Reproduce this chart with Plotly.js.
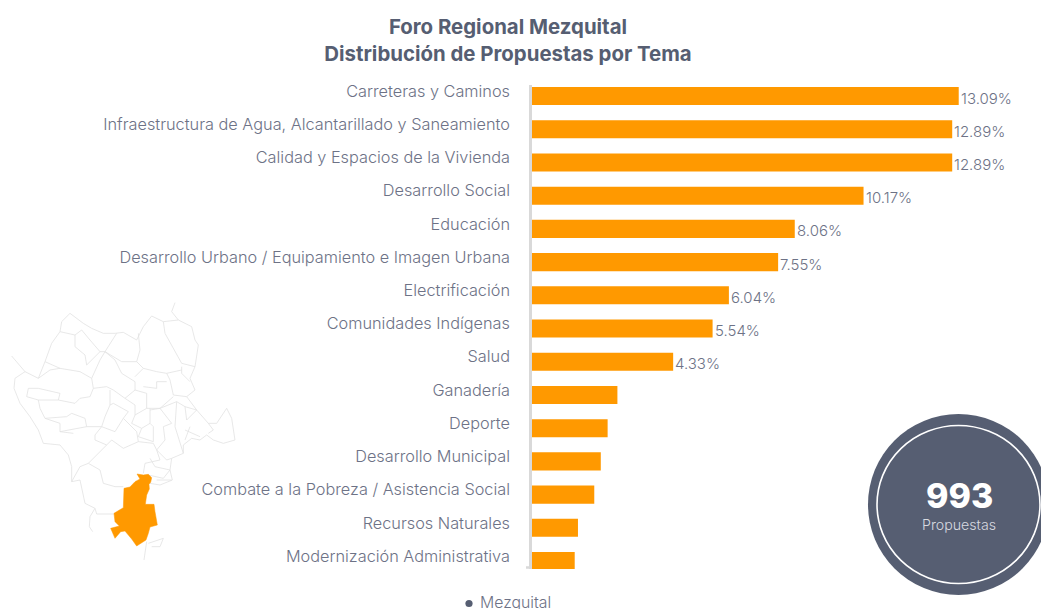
<!DOCTYPE html>
<html><head><meta charset="utf-8">
<script src="https://cdn.plot.ly/plotly-3.0.1.min.js"></script>
<style>html,body{margin:0;padding:0;background:#fff;overflow:hidden}</style>
</head><body><div id="chart" style="width:1041px;height:609px"></div>
<script>
const categories = ["Carreteras y Caminos","Infraestructura de Agua, Alcantarillado y Saneamiento","Calidad y Espacios de la Vivienda","Desarrollo Social","Educación","Desarrollo Urbano / Equipamiento e Imagen Urbana","Electrificación","Comunidades Indígenas","Salud","Ganadería","Deporte","Desarrollo Municipal","Combate a la Pobreza / Asistencia Social","Recursos Naturales","Modernización Administrativa"];
const values = [13.09,12.89,12.89,10.17,8.06,7.55,6.04,5.54,4.33,2.62,2.32,2.11,1.91,1.41,1.31];
const valueLabels = ["13.09%","12.89%","12.89%","10.17%","8.06%","7.55%","6.04%","5.54%","4.33%","","","","","",""];
const seriesName = "Mezquital";
const totalValue = "993";
const totalLabel = "Propuestas";
const titleLines = ["Foro Regional Mezquital","Distribución de Propuestas por Tema"];

// Decorative locator map, traced in a 3x crop whose origin is (0,290)
const regionOutline = [[411,552],[430,555],[445,553],[455,563],[452,577],[447,583],[448,597],[440,615],[436,643],[462,643],[465,665],[472,705],[450,711],[445,730],[438,750],[410,768],[395,747],[375,723],[362,725],[345,745],[332,715],[358,708],[345,695],[342,670],[370,653],[372,595],[390,591],[405,575],[420,567]];
const mapLines = [
[[525,38],[515,65],[535,90],[575,110],[585,150],[595,165],[585,230],[570,265],[585,300],[560,320],[590,360],[625,400],[650,400],[680,355],[695,385],[705,450],[670,460],[640,450],[620,435],[600,450],[575,445],[550,465],[550,490],[515,505],[510,540],[517,570],[480,585],[450,580]],
[[35,198],[75,245],[115,265],[135,215],[155,160],[180,125],[185,95],[210,70],[250,100],[275,115],[310,130],[345,130],[370,127],[410,150],[430,110],[455,78],[490,95],[535,90]],
[[75,245],[45,265],[42,295],[60,340],[90,380],[115,420],[130,460],[180,465],[205,495],[215,530],[215,575],[240,570],[255,640],[285,655],[290,672],[343,672]],
[[285,655],[270,680],[268,710],[278,725]],
[[440,755],[432,810]],
[[445,760],[490,745],[480,770],[455,770]],
[[180,125],[225,135],[245,120],[270,150],[300,185],[315,185],[350,130]],
[[225,135],[225,170],[255,195],[260,225],[300,185]],
[[135,215],[180,235],[240,245],[275,265],[300,210],[315,185],[345,210],[365,250],[405,275],[405,300],[375,325],[340,300],[320,290],[280,295],[275,265]],
[[115,265],[150,240],[180,235]],
[[315,185],[365,215],[410,215],[430,235],[470,245]],
[[410,215],[420,180],[415,130]],
[[490,95],[495,130],[545,220],[585,230]],
[[545,230],[545,250],[570,275]],
[[500,250],[545,240]],
[[500,250],[510,270],[520,315],[560,320]],
[[470,245],[500,250]],
[[405,260],[430,235]],
[[430,290],[470,295],[470,275],[500,275]],
[[405,300],[440,310],[440,355],[480,355],[520,320]],
[[375,325],[405,345],[405,375],[440,355]],
[[115,330],[80,320],[85,295],[115,295],[180,310],[175,330],[115,330]],
[[115,330],[120,355],[135,385],[180,400]],
[[175,330],[225,340],[240,325],[270,320],[280,295]],
[[135,385],[200,380],[215,370],[255,385],[260,410],[180,425]],
[[180,400],[180,425],[220,430]],
[[260,410],[305,410]],
[[330,300],[330,345],[315,380],[305,410],[345,425],[370,385],[385,365],[340,340],[330,345]],
[[305,410],[285,435],[285,450],[320,465],[335,450],[370,475],[415,455],[460,460],[470,480]],
[[370,385],[410,425],[415,455]],
[[405,375],[395,400],[425,415],[450,400],[450,355]],
[[450,360],[480,355],[515,400],[490,410],[495,450],[470,480],[500,510],[515,505]],
[[425,415],[415,440],[460,455],[460,410],[450,400]],
[[480,355],[530,335],[555,350],[590,360]],
[[530,335],[525,410],[550,490]],
[[555,350],[560,390],[590,360]],
[[555,420],[600,440]],
[[570,410],[555,450]],
[[625,400],[640,420],[625,430]],
[[320,465],[265,520],[300,540],[310,580],[345,590],[370,590]],
[[265,520],[240,530],[215,575]],
[[470,480],[480,510],[435,520],[430,550]],
[[450,505],[465,530],[510,540]],
[[445,555],[490,565],[510,540]],
[[470,570],[515,570]]
];

const W = 1041, H = 609;
const m = {l:532, r:0, t:85, b:40};
const pw = W-m.l-m.r, ph = H-m.t-m.b;
const px = x => (x-m.l)/pw;
const py = y => 1-(y-m.t)/ph;
const mapPath = (pts, close) => pts.map((p,i)=>(i?'L':'M')+px(p[0]/3).toFixed(5)+','+py(290+p[1]/3).toFixed(5)).join(' ')+(close?' Z':'');
const paperShape = o => Object.assign({xref:'paper',yref:'paper',layer:'above'},o);
const ellipse = (cx,cy,rx,ry,o) => paperShape(Object.assign({type:'circle',x0:px(cx-rx),x1:px(cx+rx),y0:py(cy+ry),y1:py(cy-ry)},o));

const textColor = '#6d7286', dark = '#565e72', fontFamily = 'Inter, "Noto Sans", sans-serif';
const shapes = [];
mapLines.forEach(l=>shapes.push(paperShape({type:'path',path:mapPath(l,false),line:{color:'#e2e2e2',width:0.8},fillcolor:'rgba(0,0,0,0)'})));
shapes.push(paperShape({type:'path',path:mapPath(regionOutline,true),line:{color:'#ff9900',width:0.5},fillcolor:'#ff9900'}));
shapes.push(ellipse(958.5,504.5,90.5,90.5,{line:{width:0},fillcolor:dark}));
shapes.push(ellipse(958.5,504.5,81.5,79,{line:{width:1.6,color:'#ffffff'},fillcolor:'rgba(0,0,0,0)'}));
shapes.push(paperShape({type:'line',x0:px(526),x1:px(531),y0:py(567.5),y1:py(567.5),line:{color:'#d9d9d9',width:2.5}}));
shapes.push(ellipse(469,603.5,3.6,3.6,{line:{width:0},fillcolor:dark}));

const annotations = valueLabels.map((t,i)=>({x:values[i],y:categories[i],text:t,xref:'x',yref:'y',xanchor:'left',yanchor:'middle',xshift:0,yshift:-2,showarrow:false,font:{family:fontFamily,size:15,color:textColor,weight:300}})).filter(a=>a.text);
const paperText = (x,y,text,font,anchor)=>({xref:'paper',yref:'paper',x:px(x),y:py(y),text,showarrow:false,xanchor:anchor||'center',yanchor:'middle',font});
annotations.push(paperText(959.5,495,totalValue,{family:fontFamily,size:34,color:'#ffffff',weight:800}));
annotations.push(paperText(958.5,524,totalLabel,{family:fontFamily,size:14.2,color:'#d8dae0',weight:300}));
annotations.push(paperText(478,602.5,seriesName,{family:fontFamily,size:15.8,color:textColor,weight:300},'left'));

Plotly.newPlot('chart',[{type:'bar',orientation:'h',name:seriesName,x:values,y:categories,width:18/33.07,marker:{color:'#ff9900',line:{width:0}},hoverinfo:'x+y'}],{
  width:W,height:H,margin:m,paper_bgcolor:'#fff',plot_bgcolor:'#fff',showlegend:false,
  title:{text:'<b>'+titleLines.join('<br>')+'</b>',x:508/W,xanchor:'center',y:1-34/H,yanchor:'top',font:{family:fontFamily,size:20.4,color:dark}},
  xaxis:{range:[0,pw/32.6],visible:false,fixedrange:true},
  yaxis:{type:'category',categoryorder:'array',categoryarray:categories,range:[14.24,-0.333],showgrid:false,zeroline:false,showline:true,linecolor:'#d9d9d9',linewidth:2.5,ticks:'',ticklabelstandoff:16,ticklabelshift:5,tickfont:{family:fontFamily,size:16.3,color:textColor,weight:300},fixedrange:true},
  shapes,annotations
},{displayModeBar:false,responsive:false});
</script></body></html>
